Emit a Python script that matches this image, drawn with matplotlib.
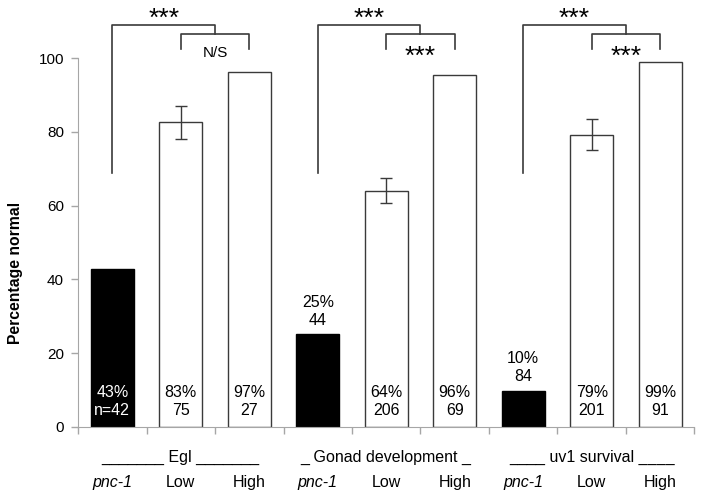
import matplotlib
matplotlib.use('Agg')
import matplotlib.pyplot as plt
import numpy as np

plt.rcParams['font.family'] = ['Liberation Sans', 'DejaVu Sans']

groups = ['Egl', 'Gonad development', 'uv1 survival']
group_labels = ['_______ Egl _______', '_ Gonad development _', '____ uv1 survival ____']
conditions = ['pnc-1', 'Low', 'High']
values = [42.8, 82.6, 96.4, 25.1, 64.1, 95.5, 9.7, 79.3, 99.0]
errors = [0, 4.5, 0, 0, 3.5, 0, 0, 4.3, 0]
pct = ['43%', '83%', '97%', '25%', '64%', '96%', '10%', '79%', '99%']
counts = ['n=42', '75', '27', '44', '206', '69', '84', '201', '91']
sig_outer = ['***', '***', '***']
sig_inner = ['N/S', '***', '***']

dark = '#3a3a3a'
axis_gray = '#a6a6a6'

fig = plt.figure(figsize=(7.04, 4.99), dpi=100)
ax = fig.add_axes([0.1108, 0.1449, 0.8757, 0.855])

x = np.arange(len(values))
colors = ['black' if i % 3 == 0 else 'white' for i in x]
edges = ['black' if i % 3 == 0 else dark for i in x]
ax.bar(x, values, width=0.63, color=colors, edgecolor=edges, linewidth=1.0, zorder=2)

for i in x:
    if errors[i] > 0:
        ax.errorbar(i, values[i], yerr=errors[i], fmt='none', ecolor=dark,
                    elinewidth=1.0, capsize=4, capthick=1.0, zorder=3)

# labels in / above bars
for i in x:
    txt = pct[i] + '\n' + counts[i]
    if i == 0:
        ax.text(i, 6.8, txt, ha='center', va='center', color='white', fontsize=11.5, linespacing=1.25)
    elif i % 3 == 0:
        ax.text(i, values[i] + 1.8, txt, ha='center', va='bottom', color='black', fontsize=11.5,
                linespacing=1.25)
    else:
        ax.text(i, 6.8, txt, ha='center', va='center', color='black', fontsize=11.5, linespacing=1.25)

# significance brackets
for g in range(3):
    b = 3 * g
    mid = b + 1.5
    ax.plot([b, b, mid, mid], [68.8, 109.0, 109.0, 106.5], color=dark, lw=1.2, clip_on=False)
    ax.plot([b + 1, b + 1, b + 2, b + 2], [102.5, 106.5, 106.5, 102.5], color=dark, lw=1.2, clip_on=False)
    ax.text((b + mid) / 2, 110.6, sig_outer[g], ha='center', va='center', fontsize=19, clip_on=False)
    if sig_inner[g] == 'N/S':
        ax.text(mid, 101.3, sig_inner[g], ha='center', va='center', fontsize=11, clip_on=False)
    else:
        ax.text(mid, 100.3, sig_inner[g], ha='center', va='center', fontsize=19, clip_on=False)

# x labels
for i in x:
    ax.text(i, -16.3, conditions[i % 3], ha='center', va='baseline', fontsize=11.5,
            style='italic' if i % 3 == 0 else 'normal', clip_on=False)
for g in range(3):
    ax.text(3 * g + 1, -9.5, group_labels[g], ha='center', va='baseline', fontsize=11.5, clip_on=False)

ax.set_xlim(-0.5, 8.5)
ax.set_ylim(0, 115.8)
ax.set_xticks(np.arange(-0.5, 9.0, 1.0))
ax.set_xticklabels([])
ax.set_yticks([0, 20, 40, 60, 80, 100])
ax.tick_params(axis='y', colors=axis_gray, labelcolor='black', labelsize=11, length=5, width=1, pad=5)
ax.tick_params(axis='x', colors=axis_gray, length=5, width=1, direction='out')
for s in ['top', 'right']:
    ax.spines[s].set_visible(False)
ax.spines['left'].set_bounds(0, 100)
ax.spines['left'].set_color(axis_gray)
ax.spines['bottom'].set_color(axis_gray)

fig.text(16 / 704, 1 - 273 / 499, 'Percentage normal', rotation=90, ha='center', va='center',
         fontsize=11.3, fontweight='bold')

fig.savefig('out.png', dpi=100)
